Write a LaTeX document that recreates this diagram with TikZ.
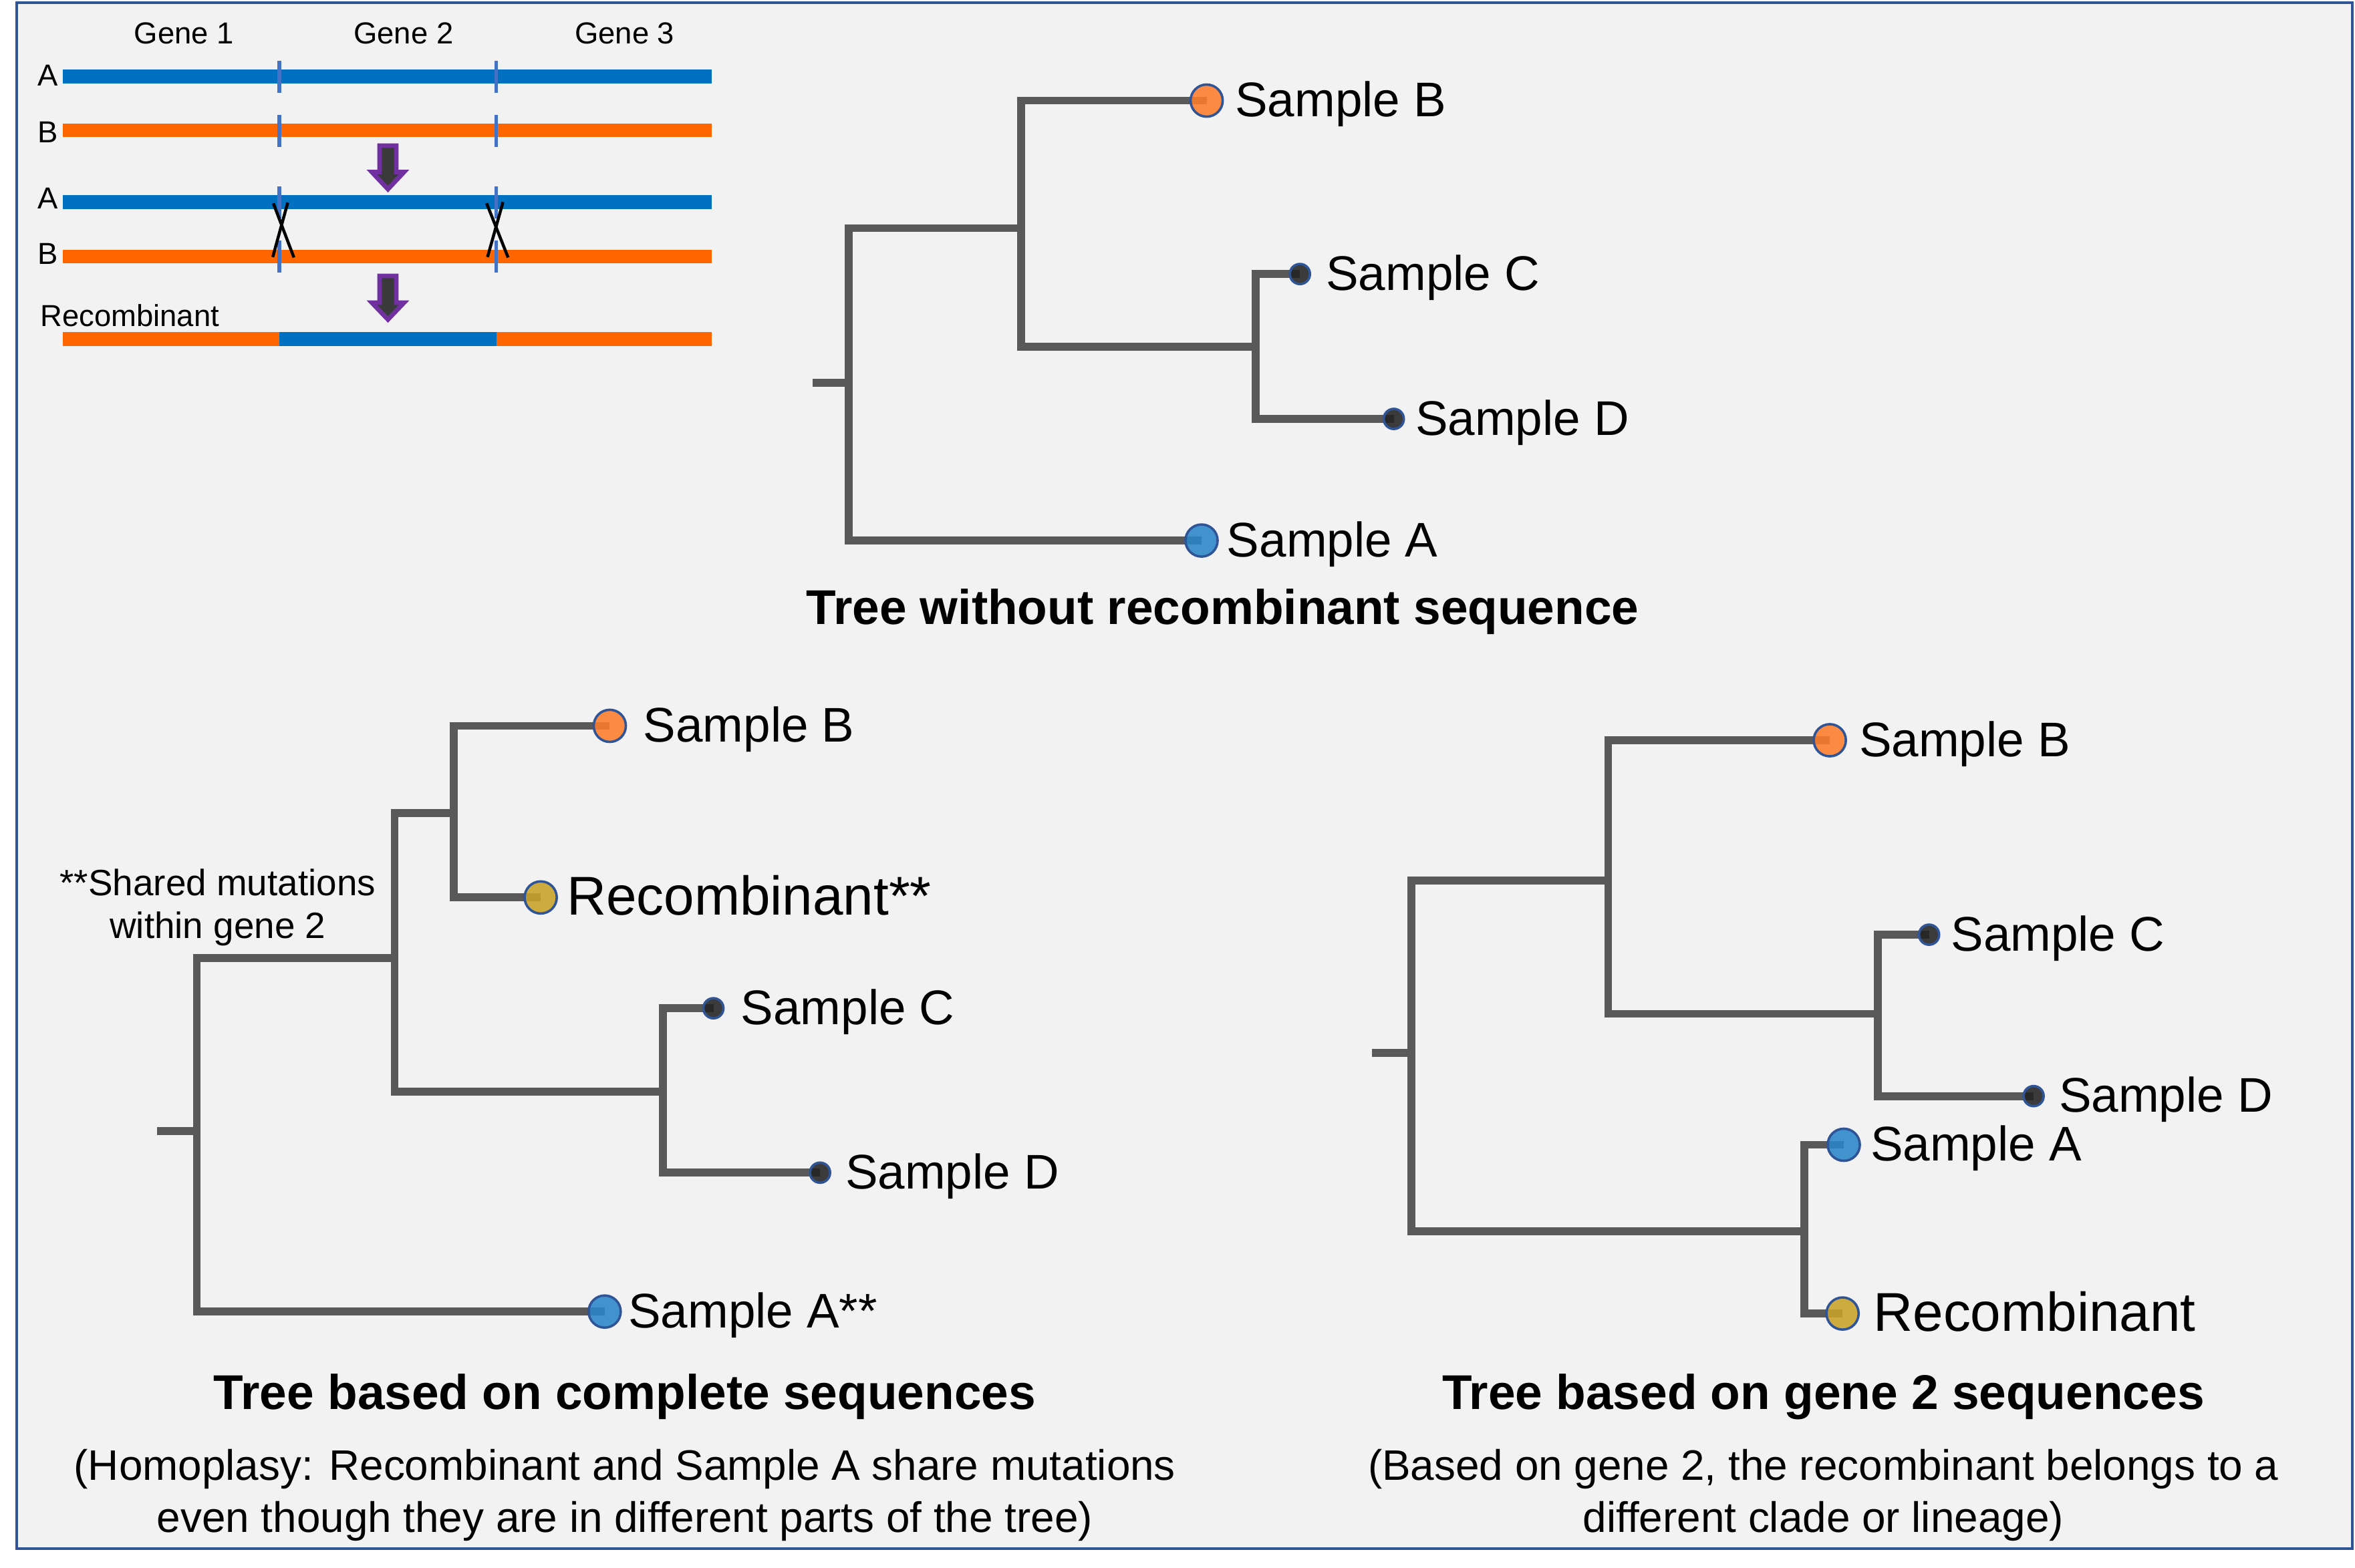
\documentclass[tikz,border=0pt]{standalone}
\usepackage{fontspec}
\setmainfont{Liberation Sans}
\usetikzlibrary{backgrounds}
\definecolor{bgc}{HTML}{F2F2F2}
\definecolor{framec}{HTML}{2F5597}
\definecolor{barblue}{HTML}{0070C0}
\definecolor{barorange}{HTML}{FF6600}
\definecolor{divblue}{HTML}{4472C4}
\definecolor{arrpurple}{HTML}{7030A0}
\definecolor{arrfill}{HTML}{3A3A3A}
\definecolor{brc}{HTML}{595959}
\definecolor{dotorange}{HTML}{FF7C2A}
\definecolor{dotblue}{HTML}{2A85C9}
\definecolor{dotblack}{HTML}{222222}
\definecolor{dotgold}{HTML}{C9A227}
\definecolor{dotrim}{HTML}{2F5597}
\begin{document}
\begin{tikzpicture}[x=0.5pt,y=-0.5pt,
  branch/.style={draw=brc, line width=2.6pt},
  bigdot/.style={circle, draw=dotrim, line width=0.8pt, minimum size=10.7pt, inner sep=0pt, fill opacity=0.88},
  smalldot/.style={bigdot, minimum size=6.7pt, fill=dotblack},
  lab/.style={anchor=base west, inner sep=0pt, font=\fontsize{16.2}{19}\selectfont},
  biglab/.style={anchor=base west, inner sep=0pt, font=\fontsize{18.2}{21}\selectfont},
  ttl/.style={anchor=base, inner sep=0pt, font=\bfseries\fontsize{16.25}{19}\selectfont},
  subt/.style={anchor=base, inner sep=0pt, font=\fontsize{14.2}{17}\selectfont},
  annot/.style={anchor=base, inner sep=0pt, font=\fontsize{12.2}{14}\selectfont},
  small/.style={anchor=base, inner sep=0pt, font=\fontsize{10.1}{12}\selectfont},
  bar/.style={line width=4.6pt},
  divider/.style={draw=divblue, line width=1.2pt},
  cross/.style={draw=black, line width=1pt},
  arrowshape/.style={draw=arrpurple, fill=arrfill, line width=1.5pt, line join=miter}
]
\useasboundingbox (0,0) rectangle (1568,1044);
\begin{scope}[on background layer]
\fill[white] (0,0) rectangle (1568,1044);
\filldraw[fill=bgc, draw=framec, line width=0.8pt] (11,1.8) rectangle (1566.3,1031.5);
\end{scope}

% ---------- inset: recombination schematic ----------
\node[small] (g1) at (122.5,29.3) {Gene 1};
\node[small] (g2) at (268.7,29.3) {Gene 2};
\node[small] (g3) at (415.9,29.3) {Gene 3};
\node[small] (la1) at (32,57.3) {A};
\node[small] (lb1) at (32,94.8) {B};
\node[small] (la2) at (32,139.1) {A};
\node[small] (lb2) at (32,176) {B};
\node[small, anchor=base west] (lrec) at (26.5,217.4) {Recombinant};

\draw[bar, barblue] (42,50.8) -- (474,50.8);
\draw[bar, barorange] (42,86.8) -- (474,86.8);
\draw[bar, barblue] (42,134.7) -- (474,134.7);
\draw[bar, barorange] (42,170.8) -- (474,170.8);
\draw[bar, barorange] (42,225.8) -- (186,225.8);
\draw[bar, barblue] (186,225.8) -- (330.5,225.8);
\draw[bar, barorange] (330.5,225.8) -- (474,225.8);

\foreach \xx in {186,330.5}{
  \draw[divider] (\xx,40.3) -- (\xx,61.7);
  \draw[divider] (\xx,76.4) -- (\xx,97.8);
  \draw[divider] (\xx,124.2) -- (\xx,145.4);
  \draw[divider] (\xx,160.2) -- (\xx,181.4);
}
\draw[cross] (181.6,171.2) -- (191.6,134.9);
\draw[cross] (182,135.4) -- (195.7,171.5);
\draw[cross] (324.6,171.2) -- (334.9,134.6);
\draw[cross] (324,135.4) -- (338.3,171.5);

\draw[arrowshape] (252.7,97) -- (263.9,97) -- (263.9,114.6) -- (269,114.6) -- (258.3,126) -- (247.6,114.6) -- (252.7,114.6) -- cycle;
\draw[arrowshape] (252.7,183.8) -- (263.9,183.8) -- (263.9,201.6) -- (269,201.6) -- (258.3,212.8) -- (247.6,201.6) -- (252.7,201.6) -- cycle;

% ---------- tree 1: without recombinant ----------
\coordinate (a0) at (541,255);
\coordinate (a1) at (565,255);
\coordinate (a2) at (680,152);
\coordinate (a3) at (836,231);
\node[bigdot, fill=dotorange] (aB) at (803.4,67) {};
\node[smalldot] (aC) at (865.5,182.5) {};
\node[smalldot] (aD) at (928,279) {};
\node[bigdot, fill=dotblue] (aA) at (800,360) {};
\node[lab] (aBl) at (822,77.8) {Sample B};
\node[lab] (aCl) at (882.5,193.3) {Sample C};
\node[lab] (aDl) at (942,289.8) {Sample D};
\node[lab] (aAl) at (816.5,370.8) {Sample A};
\node[ttl] (aT) at (814,415.6) {Tree without recombinant sequence};

% ---------- tree 2: complete sequences ----------
\coordinate (b0) at (104.6,753.3);
\coordinate (b1) at (131,753.3);
\coordinate (b2) at (262.7,638);
\coordinate (b3) at (302,541.6);
\coordinate (b4) at (441.3,727);
\node[bigdot, fill=dotorange] (bB) at (406,483.4) {};
\node[bigdot, fill=dotgold] (bR) at (360,597.7) {};
\node[smalldot] (bC) at (475,671.5) {};
\node[smalldot] (bD) at (546,781) {};
\node[bigdot, fill=dotblue] (bA) at (402.6,873.5) {};
\node[lab] (bBl) at (428,494.2) {Sample B};
\node[biglab] (bRl) at (377,609.3) {Recombinant**};
\node[lab] (bCl) at (493,682.3) {Sample C};
\node[lab] (bDl) at (562.5,791.8) {Sample D};
\node[lab] (bAl) at (418,884.3) {Sample A**};
\node[annot] (bN1) at (145,596.3) {**Shared mutations};
\node[annot] (bN2) at (145,624.7) {within gene 2};
\node[ttl] (bT) at (416,938.6) {Tree based on complete sequences};
\node[subt] (bS1) at (416,985.9) {(Homoplasy: Recombinant and Sample A share mutations};
\node[subt] (bS2) at (416,1020.3) {even though they are in different parts of the tree)};

% ---------- tree 3: gene 2 ----------
\coordinate (c0) at (913.5,701.3);
\coordinate (c1) at (939.6,701.3);
\coordinate (c2) at (1070.7,586.4);
\coordinate (c3) at (1250.3,675.2);
\coordinate (c4) at (1201.2,820);
\node[bigdot, fill=dotorange] (cB) at (1218.3,493) {};
\node[smalldot] (cC) at (1284.4,622.5) {};
\node[smalldot] (cD) at (1354,730) {};
\node[bigdot, fill=dotblue] (cA) at (1227.6,762.4) {};
\node[bigdot, fill=dotgold] (cR) at (1226.8,874.8) {};
\node[lab] (cBl) at (1237.5,503.8) {Sample B};
\node[lab] (cCl) at (1298.6,633.3) {Sample C};
\node[lab] (cDl) at (1370.5,740.8) {Sample D};
\node[lab] (cAl) at (1245,773.2) {Sample A};
\node[biglab] (cRl) at (1247,886.4) {Recombinant};
\node[ttl] (cT) at (1214,938.6) {Tree based on gene 2 sequences};
\node[subt] (cS1) at (1214,985.9) {(Based on gene 2, the recombinant belongs to a};
\node[subt] (cS2) at (1214,1020.3) {different clade or lineage)};

% ---------- branches (under the dots) ----------
\begin{scope}[on background layer]
  \draw[branch] (a0) -- (a1);
  \draw[branch] (a1) |- (a2);
  \draw[branch] (a1) |- (aA.center);
  \draw[branch] (a2) |- (aB.center);
  \draw[branch] (a2) |- (a3);
  \draw[branch] (a3) |- (aC.center);
  \draw[branch] (a3) |- (aD.center);

  \draw[branch] (b0) -- (b1);
  \draw[branch] (b1) |- (b2);
  \draw[branch] (b1) |- (bA.center);
  \draw[branch] (b2) |- (b3);
  \draw[branch] (b2) |- (b4);
  \draw[branch] (b3) |- (bB.center);
  \draw[branch] (b3) |- (bR.center);
  \draw[branch] (b4) |- (bC.center);
  \draw[branch] (b4) |- (bD.center);

  \draw[branch] (c0) -- (c1);
  \draw[branch] (c1) |- (c2);
  \draw[branch] (c1) |- (c4);
  \draw[branch] (c2) |- (cB.center);
  \draw[branch] (c2) |- (c3);
  \draw[branch] (c3) |- (cC.center);
  \draw[branch] (c3) |- (cD.center);
  \draw[branch] (c4) |- (cA.center);
  \draw[branch] (c4) |- (cR.center);
\end{scope}
\end{tikzpicture}
\end{document}
